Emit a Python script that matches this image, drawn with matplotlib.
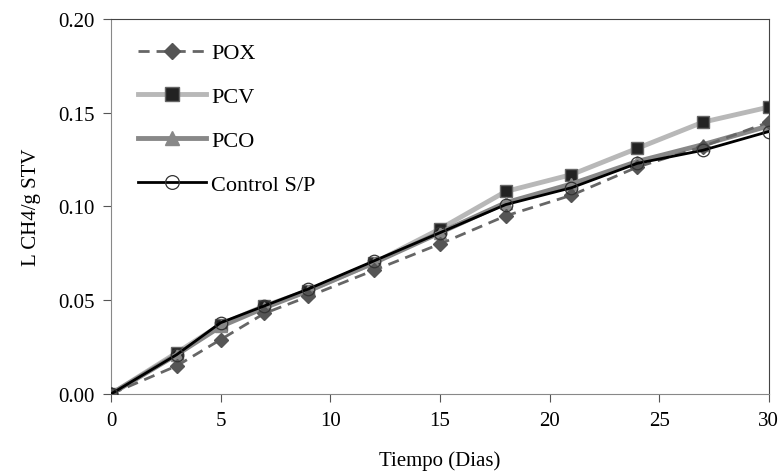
import matplotlib
matplotlib.use("Agg")
import matplotlib.pyplot as plt

plt.rcParams['font.family'] = ['Liberation Serif', 'DejaVu Serif']

dias = [0, 3, 5, 7, 9, 12, 15, 18, 21, 24, 27, 30]
pox = [0, 0.015, 0.029, 0.043, 0.052, 0.066, 0.080, 0.095, 0.106, 0.121, 0.132, 0.145]
pcv = [0, 0.022, 0.037, 0.047, 0.055, 0.070, 0.088, 0.108, 0.117, 0.131, 0.145, 0.153]
pco = [0, 0.021, 0.036, 0.046, 0.055, 0.070, 0.086, 0.102, 0.112, 0.124, 0.133, 0.143]
control = [0, 0.021, 0.038, 0.047, 0.056, 0.071, 0.086, 0.101, 0.110, 0.123, 0.130, 0.140]

fig = plt.figure(figsize=(7.83, 4.77), dpi=100)
ax = fig.add_axes([0.1418, 0.172, 0.840, 0.786])

ax.plot(dias, pcv, color='#b8b8b8', lw=3.5, marker='s', ms=9,
        mfc='#222222', mec='#666666', label='PCV', zorder=2)
ax.plot(dias, pco, color='#888888', lw=3.5, marker='^', ms=9,
        mfc='#888888', mec='#888888', label='PCO', zorder=3)
ax.plot(dias, pox, color='#666666', lw=2, ls=(0, (4, 2.5)), marker='D', ms=7.5,
        mfc='#555555', mec='#555555', label='POX', zorder=4)
ax.plot(dias, control, color='black', lw=2, marker='o', ms=9,
        mfc='none', mec='#333333', mew=0.9, label='Control S/P', zorder=5)

ax.set_xlim(0, 30)
ax.set_ylim(0, 0.20)
ax.set_xticks([0, 5, 10, 15, 20, 25, 30])
ax.set_yticks([0, 0.05, 0.10, 0.15, 0.20])
ax.set_yticklabels(['0.00', '0.05', '0.10', '0.15', '0.20'])
ax.tick_params(labelsize=15, direction='out', length=6, color='#555555')
ax.tick_params(axis='x', pad=6)
ax.tick_params(axis='y', pad=6)
for s in ax.spines.values():
    s.set_color('#444444')
ax.spines['left'].set_color('#888888')
ax.spines['bottom'].set_color('#888888')

ax.set_xlabel('Tiempo (Dias)', fontsize=15, labelpad=15)
ax.set_ylabel('L CH4/g STV', fontsize=15, labelpad=12)

h, l = ax.get_legend_handles_labels()
order = [2, 0, 1, 3]
ax.legend([h[i] for i in order], [l[i] for i in order], loc='upper left',
          frameon=False, fontsize=16, labelspacing=1.05, handlelength=3.1,
          handletextpad=0.2, markerscale=1.1, bbox_to_anchor=(0.01, 0.99))

fig.savefig('out.png', dpi=100)
